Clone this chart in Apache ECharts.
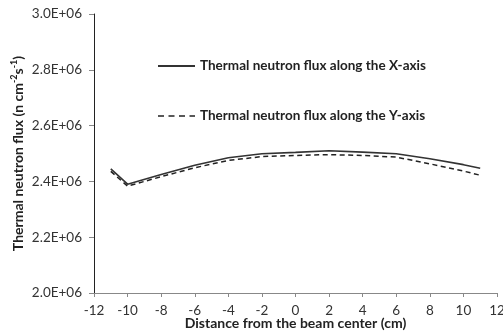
<!DOCTYPE html>
<html><head><meta charset="utf-8">
<script src="https://cdn.jsdelivr.net/npm/echarts@6/dist/echarts.min.js"></script>
<style>html,body{margin:0;padding:0;background:#fff}#c{width:503px;height:334px}</style>
</head><body><div id="c"></div>
<script>
const positions = [-11, -10, -8, -6, -4, -2, 0, 2, 4, 6, 8, 10, 11];
const fluxX = [2.445e6, 2.39e6, 2.425e6, 2.458e6, 2.485e6, 2.499e6, 2.504e6, 2.51e6, 2.505e6, 2.499e6, 2.481e6, 2.46e6, 2.447e6];
const fluxY = [2.436e6, 2.383e6, 2.417e6, 2.449e6, 2.475e6, 2.489e6, 2.493e6, 2.496e6, 2.493e6, 2.487e6, 2.463e6, 2.437e6, 2.422e6];
const seriesNames = ['Thermal neutron flux along the X-axis', 'Thermal neutron flux along the Y-axis'];
const font = 'Lato, "Liberation Sans", sans-serif';
const chart = echarts.init(document.getElementById('c'));
chart.setOption({
  animation: false,
  grid: {left: 94, right: 6, top: 14, bottom: 41, containLabel: false, outerBoundsMode: 'none'},
  legend: {
    orient: 'vertical', left: 152, top: 54, itemGap: 36, itemWidth: 37, itemHeight: 10,
    itemStyle: {opacity: 0},
    textStyle: {fontFamily: font, fontWeight: 'bold', fontSize: 13.5, color: '#222'},
    data: [{name: seriesNames[0]}, {name: seriesNames[1], lineStyle: {type: [6, 4.5], width: 1.5}}]
  },
  xAxis: {
    type: 'value', min: -12, max: 12, interval: 2,
    name: 'Distance from the beam center (cm)', nameLocation: 'middle', nameGap: 23, nameMoveOverlap: false,
    nameTextStyle: {fontFamily: font, fontWeight: 'bold', fontSize: 14, color: '#222'},
    axisLine: {onZero: false, lineStyle: {color: '#888', width: 1}},
    axisTick: {show: true, length: 4, lineStyle: {color: '#888'}},
    axisLabel: {fontFamily: font, fontSize: 13.5, color: '#333', margin: 11},
    splitLine: {show: false}
  },
  yAxis: {
    type: 'value', min: 2.0e6, max: 3.0e6, interval: 0.2e6,
    name: '{n|Thermal neutron flux (n cm}{s|-2}{n|s}{s|-1}{n|)}', nameLocation: 'middle', nameGap: 68, nameMoveOverlap: false,
    nameTextStyle: {rich: {
      n: {fontFamily: font, fontWeight: 'bold', fontSize: 14, color: '#222'},
      s: {fontFamily: font, fontWeight: 'bold', fontSize: 9, color: '#222', verticalAlign: 'top', padding: [0,0,7,0]}
    }},
    axisLine: {show: true, onZero: false, lineStyle: {color: '#222', width: 1}},
    axisTick: {show: true, length: 5, lineStyle: {color: '#888'}},
    axisLabel: {fontFamily: font, fontSize: 13.5, color: '#333', margin: 12,
      formatter: v => (v / 1e6).toFixed(1) + 'E+06'},
    splitLine: {show: false}
  },
  series: [
    {name: seriesNames[0], type: 'line', symbol: 'none', data: positions.map((p, i) => [p, fluxX[i]]),
     lineStyle: {color: '#333', width: 1.6, type: 'solid'}, itemStyle: {color: '#333'}},
    {name: seriesNames[1], type: 'line', symbol: 'none', data: positions.map((p, i) => [p, fluxY[i]]),
     lineStyle: {color: '#222', width: 1.5, type: [5, 3.5]}, itemStyle: {color: '#222'}}
  ]
});
</script></body></html>
